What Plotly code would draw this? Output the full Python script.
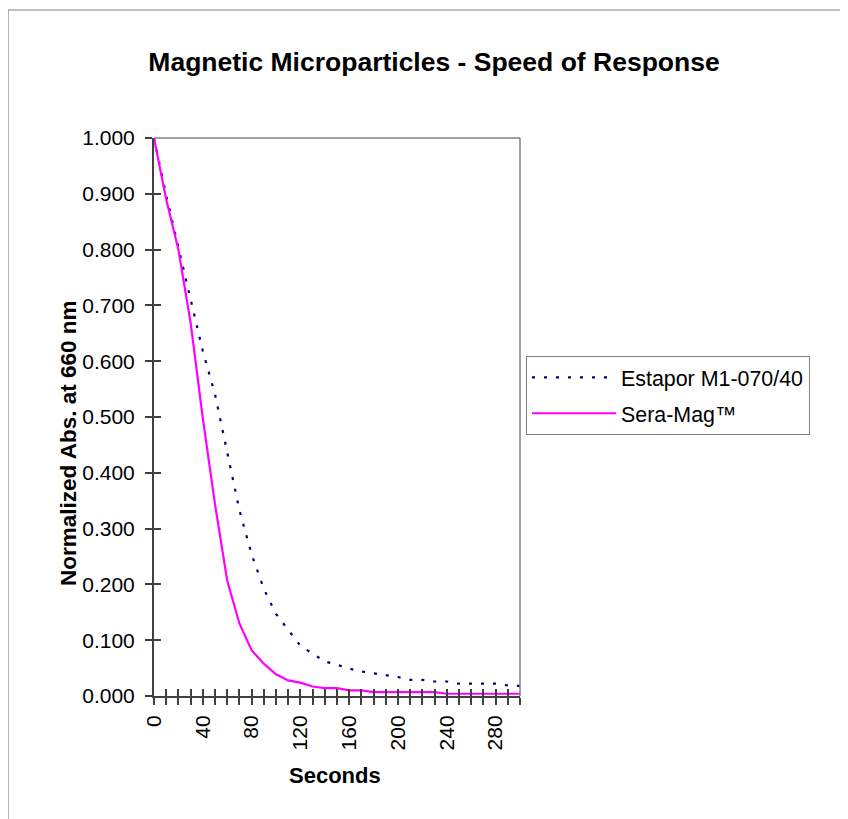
import plotly.graph_objects as go

seconds = [0, 10, 20, 30, 40, 50, 60, 70, 80, 90, 100, 110, 120, 130, 140, 150,
           160, 170, 180, 190, 200, 210, 220, 230, 240, 250, 260, 270, 280, 290, 300]
estapor = [1.000, 0.897, 0.804, 0.709, 0.618, 0.541, 0.434, 0.333, 0.254, 0.192,
           0.147, 0.118, 0.090, 0.076, 0.062, 0.056, 0.049, 0.044, 0.041, 0.037,
           0.034, 0.029, 0.029, 0.026, 0.026, 0.022, 0.022, 0.022, 0.022, 0.019, 0.018]
seramag = [1.000, 0.890, 0.800, 0.669, 0.498, 0.344, 0.207, 0.130, 0.082, 0.058,
           0.039, 0.028, 0.024, 0.017, 0.014, 0.014, 0.010, 0.010, 0.007, 0.007,
           0.007, 0.007, 0.007, 0.007, 0.004, 0.004, 0.004, 0.004, 0.004, 0.004, 0.004]
x_labels = [str(s) if s % 40 == 0 else "" for s in seconds]

FONT = "Liberation Sans, Arial, sans-serif"
AX = "#404040"

# page body has an 8px margin; target plot area on screen: x 154-520, y 138-696
OFF = 8
L, T, PW, PH = 154 - OFF, 138 - OFF, 366, 558
W, H = 848, 819

fig = go.Figure()
fig.add_trace(go.Scatter(x=seconds, y=estapor, mode="lines", name="Estapor M1-070/40",
                         line=dict(color="#000080", width=2.2, dash="3px,9px"),
                         legendgroup="a"))
fig.add_trace(go.Scatter(x=seconds, y=seramag, mode="lines", name="Sera-Mag™",
                         line=dict(color="#FF00FF", width=2.2), legendgroup="b"))
fig.add_trace(go.Scatter(x=[], y=[], xaxis="x2", yaxis="y2", showlegend=False))

fig.update_layout(
    width=W, height=H,
    margin=dict(l=L, r=W - L - PW, t=T, b=H - T - PH),
    paper_bgcolor="white", plot_bgcolor="white",
    font=dict(family=FONT, size=21, color="black"),
    title=dict(text="<b>Magnetic Microparticles - Speed of Response</b>",
               font=dict(size=26.5, family=FONT, color="black"),
               x=(434 - OFF) / W, xref="container", xanchor="center",
               y=1 - (62 - OFF) / H, yref="container", yanchor="middle"),
    xaxis=dict(range=[0, 300], tickvals=seconds, ticktext=x_labels, tickangle=-90,
               ticks="outside", ticklen=7, tickwidth=1.5, tickcolor=AX,
               showline=True, linecolor=AX, linewidth=2, showgrid=False, zeroline=False,
               ticklabelstandoff=2),
    yaxis=dict(range=[0, 1], dtick=0.1, tickformat=".3f",
               ticks="outside", ticklen=7, tickwidth=1.5, tickcolor=AX,
               showline=True, linecolor=AX, linewidth=2, showgrid=False, zeroline=False,
               ticklabelstandoff=6),
    xaxis2=dict(overlaying="x", anchor="y", side="bottom", range=[0, 300], dtick=10,
                ticks="inside", ticklen=7, tickwidth=1.5, tickcolor=AX,
                showticklabels=False, showgrid=False, zeroline=False, showline=False),
    yaxis2=dict(overlaying="y", anchor="x", side="left", range=[0, 1], dtick=0.1,
                ticks="inside", ticklen=7, tickwidth=1.5, tickcolor=AX,
                showticklabels=False, showgrid=False, zeroline=False, showline=False),
    legend=dict(x=(526 - 154) / PW, xanchor="left", y=(696 - 356) / PH, yanchor="top",
                bordercolor="#808080", borderwidth=1, bgcolor="white",
                font=dict(size=21.4), itemwidth=84, traceorder="grouped", tracegroupgap=5),
    showlegend=True,
)

# axis titles (Excel places them independently)
fig.add_annotation(text="<b>Seconds</b>", xref="paper", yref="paper",
                   x=(335 - 154) / PW, y=(696 - 775) / PH, xanchor="center", yanchor="middle",
                   showarrow=False, font=dict(size=22, family=FONT, color="black"))
fig.add_annotation(text="<b>Normalized Abs. at 660 nm</b>", xref="paper", yref="paper",
                   x=(68 - 154) / PW, y=(696 - 443) / PH, xanchor="center", yanchor="middle",
                   textangle=-90, showarrow=False, font=dict(size=22.5, family=FONT, color="black"))

# plot-area border (top and right)
fig.add_shape(type="line", xref="paper", yref="paper", x0=0, x1=1, y0=1, y1=1,
              line=dict(color="#808080", width=1.5))
fig.add_shape(type="line", xref="paper", yref="paper", x0=1, x1=1, y0=0, y1=1,
              line=dict(color="#808080", width=1.5))
# chart-area border (left and top visible)
fig.add_shape(type="line", xref="paper", yref="paper",
              x0=(8 - 154) / PW, x1=2.0, y0=(696 - 10) / PH, y1=(696 - 10) / PH,
              line=dict(color="#808080", width=1.2))
fig.add_shape(type="line", xref="paper", yref="paper",
              x0=(8 - 154) / PW, x1=(8 - 154) / PW, y0=(696 - 10) / PH, y1=-1.0,
              line=dict(color="#808080", width=1.2))

fig.write_html("out.html")
